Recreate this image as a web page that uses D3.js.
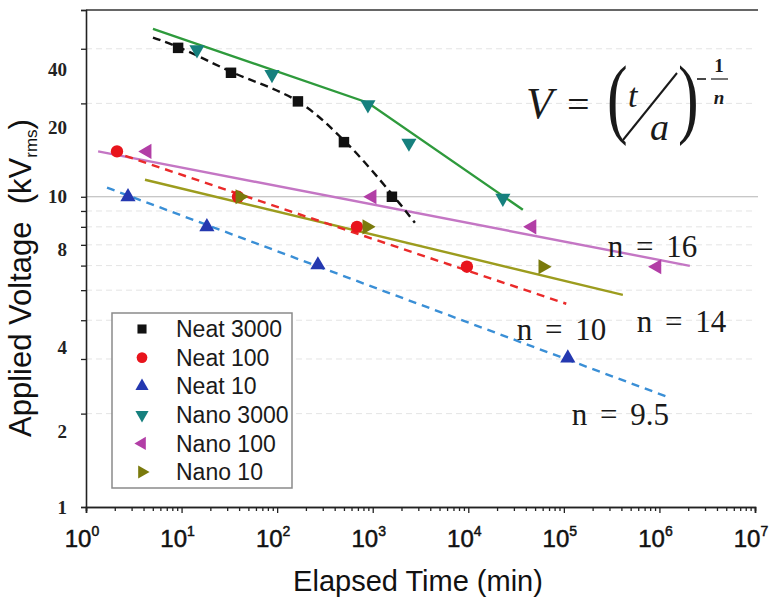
<!DOCTYPE html>
<html>
<head>
<meta charset="utf-8">
<script src="https://cdn.jsdelivr.net/npm/d3@7"></script>
<style>
  html, body { margin: 0; padding: 0; background: #fff; }
  svg { display: block; }
</style>
</head>
<body>
<div id="chart"></div>
<script>
// ---------------- data ----------------
const xTickExponents = [0, 1, 2, 3, 4, 5, 6, 7];
const yTickValues = [1, 2, 3, 4, 5, 6, 7, 8, 9, 10, 20, 30, 40];
const yGridValues = [2, 3, 4, 5, 6, 7, 8, 9, 20, 30];
// tick labels as printed in the original figure, and the voltage level where each one sits
const yLabelTexts = ["1", "2", "4", "8", "10", "20", "40"];
const yLabelAt    = [1, 1.75, 3.28, 6.75, 10, 16.7, 25.7];

const seriesNames = ["Neat 3000", "Neat 100", "Neat 10", "Nano 3000", "Nano 100", "Nano 10"];

// measured points (time in min, voltage in kV rms)
const neat3000T = [9.2, 32.9, 165, 500, 1588];
const neat3000V = [30.2, 25.1, 20.3, 15.0, 10.0];
const neat100T  = [2.11, 38.9, 684, 9670];
const neat100V  = [14.0, 10.0, 8.0, 5.95];
const neat10T   = [2.75, 18.4, 267, 110000];
const neat10V   = [10.0, 8.0, 6.03, 3.02];
const nano3000T = [14.5, 88.3, 891, 2393, 23000];
const nano3000V = [29.8, 24.8, 19.8, 14.9, 9.9];
const nano100T  = [4.35, 984, 46300, 940000];
const nano100V  = [14.0, 10.0, 8.0, 5.95];
const nano10T   = [40.8, 869, 60300];
const nano10V   = [10.0, 8.0, 5.95];

// fitted lines
const fitNeat3000T = [5.02, 9.2, 32.9, 165, 500, 1588, 2763];
const fitNeat3000V = [32.6, 30.4, 25.3, 20.3, 15.2, 10.2, 8.24];
const fitNeat100T  = [1.87, 106000];
const fitNeat100V  = [14.0, 4.52];
const fitNeat10T   = [1.66, 1280000];
const fitNeat10V   = [10.7, 2.25];
const fitNano3000T = [5.02, 891, 37250];
const fitNano3000V = [34.8, 20.1, 9.08];
const fitNano100T  = [1.34, 2080000];
const fitNano100V  = [14.0, 5.99];
const fitNano10T   = [4.14, 414000];
const fitNano10V   = [11.35, 4.83];

// annotations: text, time, voltage of left baseline point
const nLabels = ["n = 16", "n = 14", "n = 10", "n = 9.5"];
const nLabelT = [288000, 580000, 32200, 121000];
const nLabelV = [6.4, 3.67, 3.46, 1.84];

// ---------------- chart ----------------
const W = 773, H = 600;
const plot = { left: 86, right: 755, top: 10, bottom: 507 };
const SANS = "'Liberation Sans', Arial, sans-serif";
const SERIF = "'Liberation Serif', 'Times New Roman', serif";

const svg = d3.select("#chart").append("svg").attr("width", W).attr("height", H);

const x = d3.scaleLog().domain([1, 1e7]).range([plot.left, plot.right]);
const y = d3.scaleLog().domain([1, 40]).range([plot.bottom, plot.top]);

// gridlines
svg.append("g").selectAll("line").data(yGridValues).join("line")
  .attr("x1", plot.left).attr("x2", plot.right)
  .attr("y1", d => y(d)).attr("y2", d => y(d))
  .attr("stroke", "#e4e4e4").attr("stroke-width", 1).attr("stroke-dasharray", "6,4");
svg.append("line")
  .attr("x1", plot.left).attr("x2", plot.right + 3)
  .attr("y1", y(10)).attr("y2", y(10))
  .attr("stroke", "#b4b4b4").attr("stroke-width", 1.2);

// top frame
svg.append("line")
  .attr("x1", plot.left).attr("x2", plot.right + 3)
  .attr("y1", plot.top).attr("y2", plot.top)
  .attr("stroke", "#333").attr("stroke-width", 1.6);

// x axis
const xMinor = [];
xTickExponents.forEach(e => { if (e < 7) for (let k = 2; k <= 9; k++) xMinor.push(k * Math.pow(10, e)); });
const xAxisG = svg.append("g").attr("transform", `translate(0,${plot.bottom})`);
xAxisG.call(d3.axisBottom(x).tickValues(xMinor).tickSize(4).tickFormat(""));
xAxisG.append("g").call(d3.axisBottom(x).tickValues(xTickExponents.map(e => Math.pow(10, e))).tickSize(6).tickFormat(""));
xAxisG.selectAll("path").attr("stroke", "#222").attr("stroke-width", 1.6);
xAxisG.selectAll("line").attr("stroke", "#222").attr("stroke-width", 1.3);

const xLab = svg.append("g").selectAll("text").data(xTickExponents).join("text")
  .attr("x", d => x(Math.pow(10, d)) - 4)
  .attr("y", 547)
  .attr("text-anchor", "middle")
  .attr("font-family", SANS).attr("font-size", 24).attr("fill", "#111")
  .attr("stroke", "#111").attr("stroke-width", 0.5);
xLab.append("tspan").text("10");
xLab.append("tspan").attr("dy", -11).attr("font-size", 14).text(d => d);

// y axis
const yAxisG = svg.append("g").attr("transform", `translate(${plot.left},0)`);
yAxisG.call(d3.axisLeft(y).tickValues(yTickValues).tickSize(5).tickFormat(""));
yAxisG.selectAll("path").attr("stroke", "#222").attr("stroke-width", 1.6);
yAxisG.selectAll("line").attr("stroke", "#222").attr("stroke-width", 1.3);

svg.append("g").selectAll("text").data(yLabelTexts).join("text")
  .attr("x", 67)
  .attr("y", (d, i) => y(yLabelAt[i]))
  .attr("dy", "0.35em")
  .attr("text-anchor", "end")
  .attr("font-family", SERIF).attr("font-weight", "bold").attr("font-size", 19).attr("fill", "#222")
  .text(d => d);

// axis titles
svg.append("text")
  .attr("x", 418).attr("y", 591)
  .attr("text-anchor", "middle")
  .attr("font-family", SANS).attr("font-size", 29).attr("fill", "#111")
  .text("Elapsed Time (min)");

const yTitle = svg.append("text")
  .attr("transform", "translate(31,278) rotate(-90)")
  .attr("text-anchor", "middle")
  .attr("xml:space", "preserve")
  .attr("font-family", SANS).attr("font-size", 31).attr("fill", "#111");
yTitle.append("tspan").text("Applied Voltage  (kV");
yTitle.append("tspan").attr("font-size", 17).attr("dy", 6).text("rms");
yTitle.append("tspan").attr("dy", -6).text(")");

// fitted lines
const line = d3.line().x(d => x(d[0])).y(d => y(d[1]));
const curve = d3.line().x(d => x(d[0])).y(d => y(d[1])).curve(d3.curveCatmullRom.alpha(0.5));
const zip = (a, b) => a.map((v, i) => [v, b[i]]);

const fits = [
  { t: fitNano3000T, v: fitNano3000V, color: "#2e9a3c", dash: null, gen: line },
  { t: fitNano100T,  v: fitNano100V,  color: "#c476c4", dash: null, gen: line },
  { t: fitNano10T,   v: fitNano10V,   color: "#9c9c1e", dash: null, gen: line },
  { t: fitNeat100T,  v: fitNeat100V,  color: "#ea2a2a", dash: "8,6", gen: line },
  { t: fitNeat10T,   v: fitNeat10V,   color: "#3a8fd6", dash: "8,6", gen: line },
  { t: fitNeat3000T, v: fitNeat3000V, color: "#111111", dash: "8,5", gen: curve }
];
svg.append("g").selectAll("path").data(fits).join("path")
  .attr("d", d => d.gen(zip(d.t, d.v)))
  .attr("fill", "none")
  .attr("stroke", d => d.color)
  .attr("stroke-width", 2.4)
  .attr("stroke-dasharray", d => d.dash);

// markers
const series = [
  { t: neat3000T, v: neat3000V, color: "#111111", type: d3.symbolSquare, size: 110, rot: 0 },
  { t: neat100T,  v: neat100V,  color: "#e8141c", type: d3.symbolCircle, size: 120, rot: 0 },
  { t: neat10T,   v: neat10V,   color: "#2438b0", type: d3.symbolTriangle, size: 100, rot: 0 },
  { t: nano3000T, v: nano3000V, color: "#16807e", type: d3.symbolTriangle, size: 100, rot: 180 },
  { t: nano100T,  v: nano100V,  color: "#b23ea6", type: d3.symbolTriangle, size: 100, rot: -90 },
  { t: nano10T,   v: nano10V,   color: "#7a7a0c", type: d3.symbolTriangle, size: 100, rot: 90 }
];
series.forEach(s => {
  svg.append("g").selectAll("path").data(zip(s.t, s.v)).join("path")
    .attr("d", d3.symbol().type(s.type).size(s.size)())
    .attr("transform", d => `translate(${x(d[0])},${y(d[1])}) rotate(${s.rot})`)
    .attr("fill", s.color);
});

// annotations n = ...
svg.append("g").selectAll("text").data(nLabels).join("text")
  .attr("x", (d, i) => x(nLabelT[i]))
  .attr("y", (d, i) => y(nLabelV[i]))
  .attr("font-family", SERIF).attr("font-size", 31).attr("fill", "#1a1a1a")
  .attr("word-spacing", 5)
  .text(d => d);

// formula V = (t/a)^(-1/n)
const f = svg.append("g").attr("fill", "#1a1a1a").attr("font-family", SERIF);
f.append("text").attr("x", 526).attr("y", 118).attr("font-size", 44).attr("font-style", "italic").text("V");
f.append("text").attr("x", 567).attr("y", 118).attr("font-size", 40).text("=");
f.append("text").attr("transform", "translate(607,127) scale(1,1.45)").attr("font-size", 62).text("(");
f.append("text").attr("x", 628).attr("y", 107).attr("font-size", 34).attr("font-style", "italic").text("t");
f.append("line").attr("x1", 623).attr("y1", 140).attr("x2", 677).attr("y2", 73).attr("stroke", "#1a1a1a").attr("stroke-width", 2);
f.append("text").attr("x", 650).attr("y", 140).attr("font-size", 38).attr("font-style", "italic").text("a");
f.append("text").attr("transform", "translate(678,127) scale(1,1.45)").attr("font-size", 62).text(")");
f.append("line").attr("x1", 697).attr("y1", 79).attr("x2", 706).attr("y2", 79).attr("stroke", "#1a1a1a").attr("stroke-width", 1.6);
f.append("line").attr("x1", 711).attr("y1", 79).attr("x2", 728).attr("y2", 79).attr("stroke", "#1a1a1a").attr("stroke-width", 1.2);
f.append("text").attr("x", 719).attr("y", 72).attr("text-anchor", "middle").attr("font-size", 19).attr("font-weight", "bold").text("1");
f.append("text").attr("x", 719).attr("y", 104).attr("text-anchor", "middle").attr("font-size", 19).attr("font-weight", "bold").attr("font-style", "italic").text("n");

// legend
const leg = svg.append("g");
leg.append("rect").attr("x", 112).attr("y", 313).attr("width", 180).attr("height", 175)
  .attr("fill", "#fff").attr("stroke", "#8a8a8a").attr("stroke-width", 1.5);
const rows = leg.selectAll("g.row").data(series).join("g").attr("class", "row")
  .attr("transform", (d, i) => `translate(0,${329 + i * 28.6})`);
rows.append("path")
  .attr("d", d => d3.symbol().type(d.type).size(d.size * 0.75)())
  .attr("transform", d => `translate(142,0) rotate(${d.rot})`)
  .attr("fill", d => d.color);
rows.append("text")
  .attr("x", 176).attr("dy", "0.36em")
  .attr("font-family", SANS).attr("font-size", 23).attr("fill", "#1a1a1a")
  .text((d, i) => seriesNames[i]);
</script>
</body>
</html>
